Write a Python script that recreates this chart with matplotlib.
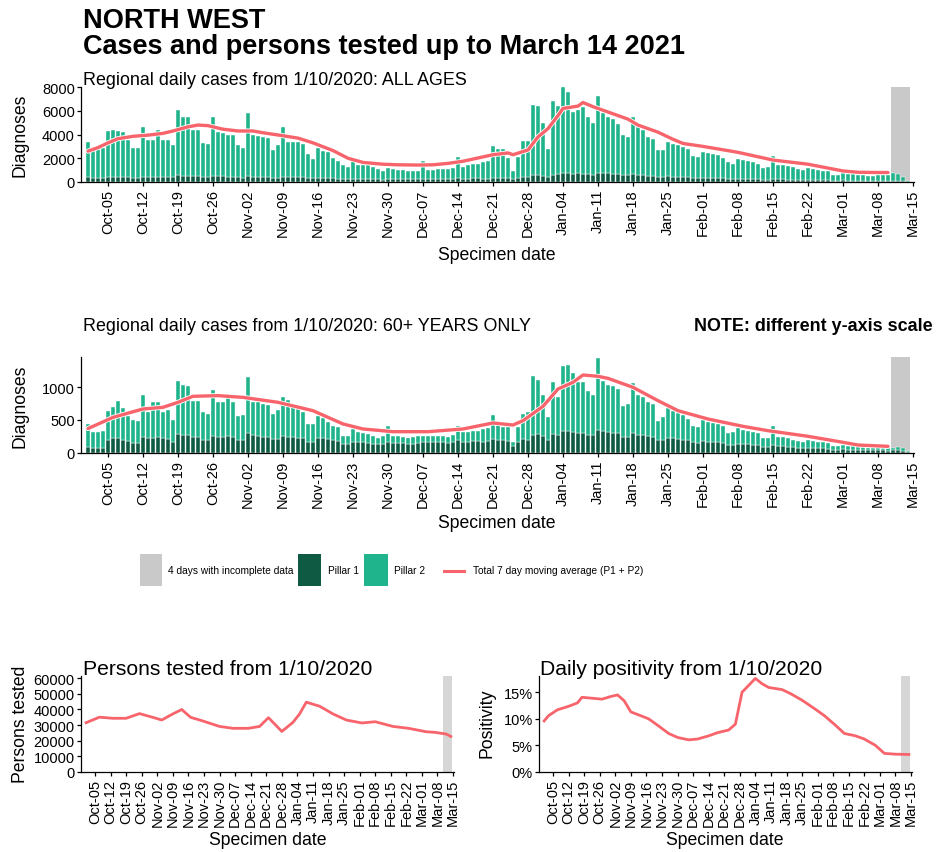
import numpy as np
import pandas as pd
import matplotlib
matplotlib.use('Agg')
import matplotlib.pyplot as plt
import matplotlib.dates as mdates
import matplotlib.patheffects as pe
from matplotlib.patches import Rectangle
from matplotlib.lines import Line2D
from matplotlib.ticker import PercentFormatter, FixedLocator
from matplotlib import font_manager

# ---------------- DATA ----------------
dates = pd.date_range('2020-10-01', '2021-03-14', freq='D')

all_total = [3400, 2700, 2800, 2900, 4300, 4400, 4300,
             4200, 3500, 2850, 2850, 4650, 3500, 3500,
             4400, 3500, 3500, 3100, 6100, 5500, 5500,
             4400, 4400, 3300, 3200, 5500, 4200, 4100,
             4000, 4000, 3100, 2900, 5800, 4000, 3900,
             3800, 3700, 2700, 3100, 4600, 3400, 3400,
             3400, 3200, 2400, 1950, 2850, 2650, 2500,
             2000, 1800, 1400, 1300, 1800, 1450, 1450,
             1400, 1300, 1100, 950, 1150, 1100, 1000,
             1000, 960, 960, 960, 1800, 1000, 1050,
             1080, 1100, 1100, 1200, 2100, 1300, 1400,
             1500, 1550, 1700, 1750, 3000, 2800, 2800,
             2050, 900, 2100, 3450, 3450, 6500, 6400,
             5000, 2800, 6800, 6400, 8050, 7550, 5900,
             6050, 6300, 5500, 4950, 7250, 5850, 5500,
             5300, 4900, 3950, 3800, 5500, 4600, 4400,
             3800, 3650, 2700, 2700, 3400, 3200, 3100,
             2950, 2800, 2150, 2100, 2500, 2450, 2400,
             2250, 2050, 1650, 1550, 1950, 1850, 1800,
             1650, 1550, 1200, 1300, 2200, 1400, 1400,
             1350, 1300, 1100, 1000, 1200, 1100, 1000,
             950, 900, 620, 620, 800, 700, 700,
             620, 620, 500, 500, 620, 600, 550,
             750, 700, 450, 100]

all_pillar1 = [380, 350, 300, 300, 420, 430, 430,
               420, 400, 320, 320, 450, 430, 430,
               450, 430, 420, 380, 560, 540, 530,
               500, 500, 420, 400, 520, 480, 470,
               460, 450, 380, 360, 500, 440, 430,
               420, 410, 330, 340, 430, 400, 400,
               390, 380, 320, 300, 360, 350, 340,
               310, 290, 240, 230, 280, 260, 260,
               250, 240, 220, 210, 260, 250, 240,
               240, 230, 220, 220, 270, 260, 260,
               260, 260, 240, 240, 300, 290, 290,
               300, 300, 280, 280, 360, 350, 350,
               330, 250, 320, 400, 420, 560, 580,
               520, 420, 620, 650, 720, 730, 700,
               720, 700, 640, 620, 780, 740, 720,
               700, 680, 600, 580, 640, 600, 580,
               540, 520, 440, 430, 480, 460, 450,
               420, 400, 340, 330, 360, 350, 340,
               320, 300, 260, 250, 280, 270, 260,
               250, 240, 200, 200, 240, 220, 220,
               210, 200, 170, 160, 180, 170, 160,
               150, 140, 110, 110, 130, 120, 120,
               110, 110, 90, 90, 110, 100, 100,
               100, 90, 70, 20]

old_total = [440, 313, 323, 338, 641, 692, 793,
             677, 566, 505, 490, 879, 616, 778,
             768, 616, 657, 505, 1096, 1030, 1020,
             793, 793, 616, 591, 960, 768, 768,
             894, 768, 566, 576, 1146, 768, 778,
             742, 727, 591, 657, 843, 808, 692,
             667, 626, 440, 440, 556, 525, 475,
             404, 389, 253, 263, 364, 323, 303,
             288, 253, 222, 253, 404, 253, 253,
             237, 222, 237, 253, 253, 253, 253,
             253, 263, 237, 273, 414, 313, 323,
             338, 338, 364, 380, 570, 470, 400,
             389, 172, 389, 591, 616, 1172, 1111,
             879, 540, 1071, 843, 1323, 1333, 1212,
             1071, 1071, 944, 879, 1434, 1096, 1030,
             1020, 970, 717, 742, 1061, 879, 843,
             768, 742, 490, 540, 677, 641, 606,
             576, 515, 404, 389, 505, 475, 455,
             440, 404, 303, 313, 374, 354, 338,
             313, 303, 222, 222, 404, 237, 237,
             222, 202, 187, 172, 202, 187, 172,
             162, 146, 111, 111, 121, 111, 101,
             101, 96, 71, 71, 86, 81, 71,
             81, 96, 76, 35]

old_pillar1 = [90, 80, 70, 80, 200, 230, 220,
               200, 180, 150, 150, 250, 230, 230,
               240, 220, 210, 170, 290, 280, 270,
               250, 250, 200, 190, 260, 250, 250,
               260, 250, 200, 200, 310, 270, 260,
               250, 250, 210, 210, 260, 250, 240,
               230, 220, 170, 170, 230, 220, 210,
               190, 180, 140, 140, 170, 160, 160,
               150, 140, 130, 140, 170, 150, 150,
               150, 140, 140, 150, 160, 160, 160,
               160, 160, 150, 160, 190, 170, 170,
               180, 180, 170, 180, 210, 200, 190,
               180, 110, 170, 210, 200, 280, 290,
               260, 200, 290, 270, 330, 330, 320,
               310, 300, 280, 270, 350, 330, 320,
               310, 300, 250, 250, 300, 280, 270,
               260, 250, 200, 200, 230, 220, 210,
               200, 190, 160, 150, 180, 170, 160,
               160, 150, 120, 120, 140, 130, 130,
               120, 120, 90, 90, 120, 100, 100,
               90, 90, 80, 70, 80, 80, 70,
               70, 60, 50, 50, 60, 50, 50,
               50, 50, 40, 40, 40, 40, 35,
               40, 45, 35, 15]

all_ma_dates = ['2020-10-01', '2020-10-03', '2020-10-05', '2020-10-07', '2020-10-10',
                '2020-10-13', '2020-10-16', '2020-10-18', '2020-10-21', '2020-10-23',
                '2020-10-25', '2020-10-28', '2020-10-31', '2020-11-03', '2020-11-05',
                '2020-11-09', '2020-11-12', '2020-11-15', '2020-11-19', '2020-11-22',
                '2020-11-25', '2020-11-29', '2020-12-02', '2020-12-06', '2020-12-09',
                '2020-12-12', '2020-12-15', '2020-12-21', '2020-12-24', '2020-12-25',
                '2020-12-28', '2020-12-30', '2021-01-01', '2021-01-03', '2021-01-04',
                '2021-01-07', '2021-01-08', '2021-01-10', '2021-01-13', '2021-01-17',
                '2021-01-19', '2021-01-23', '2021-01-26', '2021-01-28', '2021-02-01',
                '2021-02-08', '2021-02-15', '2021-02-22', '2021-03-01', '2021-03-04',
                '2021-03-08', '2021-03-10']
all_ma = [2600, 2900, 3300, 3650, 3850, 3950, 4100, 4300, 4650, 4800,
          4750, 4450, 4300, 4300, 4150, 3900, 3700, 3300, 2650, 2000,
          1650, 1500, 1450, 1430, 1450, 1570, 1750, 2300, 2450, 2300,
          2700, 3800, 4500, 5600, 6200, 6400, 6700, 6350, 5900, 5300,
          4800, 4200, 3600, 3250, 3000, 2500, 1850, 1500, 930, 820,
          800, 800]

old_ma_dates = ['2020-10-01', '2020-10-06', '2020-10-12', '2020-10-16', '2020-10-19',
                '2020-10-22', '2020-10-27', '2020-11-01', '2020-11-08', '2020-11-15',
                '2020-11-21', '2020-11-25', '2020-12-01', '2020-12-08', '2020-12-15',
                '2020-12-21', '2020-12-25', '2020-12-27', '2020-12-31', '2021-01-03',
                '2021-01-06', '2021-01-08', '2021-01-11', '2021-01-13', '2021-01-18',
                '2021-01-23', '2021-01-27', '2021-02-02', '2021-02-09', '2021-02-14',
                '2021-02-22', '2021-03-01', '2021-03-04', '2021-03-07', '2021-03-10']
old_ma = [370, 540, 667, 692, 768, 859, 869, 843, 768, 641,
          440, 364, 323, 323, 364, 455, 424, 490, 707, 970,
          1071, 1182, 1162, 1131, 995, 793, 641, 515, 404, 338,
          253, 162, 121, 111, 101]

tested_dates = ['2020-10-01', '2020-10-07', '2020-10-13', '2020-10-19', '2020-10-25',
                '2020-10-31', '2020-11-04', '2020-11-09', '2020-11-13', '2020-11-17',
                '2020-11-22', '2020-11-30', '2020-12-06', '2020-12-13', '2020-12-18',
                '2020-12-22', '2020-12-28', '2021-01-02', '2021-01-05', '2021-01-08',
                '2021-01-14', '2021-01-20', '2021-01-26', '2021-02-02', '2021-02-08',
                '2021-02-16', '2021-02-23', '2021-03-03', '2021-03-07', '2021-03-12',
                '2021-03-14']
tested = [31500, 35000, 34300, 34300, 37300, 34900, 33200, 37100, 39900, 34900,
          32800, 29100, 27900, 27900, 29100, 34700, 25900, 31700, 37100, 44600,
          42000, 37100, 33200, 31300, 32100, 29100, 27900, 25700, 25300, 24200,
          22700]

pos_dates = ['2020-10-01', '2020-10-03', '2020-10-07', '2020-10-12', '2020-10-16',
             '2020-10-18', '2020-10-22', '2020-10-27', '2020-10-31', '2020-11-03',
             '2020-11-06', '2020-11-09', '2020-11-14', '2020-11-17', '2020-11-21',
             '2020-11-26', '2020-11-30', '2020-12-05', '2020-12-09', '2020-12-14',
             '2020-12-18', '2020-12-23', '2020-12-26', '2020-12-29', '2021-01-01',
             '2021-01-04', '2021-01-07', '2021-01-10', '2021-01-16', '2021-01-20',
             '2021-01-25', '2021-01-31', '2021-02-04', '2021-02-09', '2021-02-13',
             '2021-02-18', '2021-02-22', '2021-02-27', '2021-03-03', '2021-03-08',
             '2021-03-14']
positivity = [9.6, 10.6, 11.7, 12.35, 13.0, 14.05, 13.9, 13.7, 14.2, 14.5,
              13.4, 11.3, 10.5, 10.0, 8.8, 7.25, 6.5, 6.05, 6.2, 6.8,
              7.4, 7.9, 9.0, 15.0, 16.3, 17.6, 16.6, 15.9, 15.5, 14.7,
              13.5, 11.8, 10.6, 8.8, 7.25, 6.8, 6.2, 5.0, 3.5, 3.35,
              3.3]

incomplete_start = '2021-03-11'
incomplete_end = '2021-03-14'
tick_dates = pd.date_range('2020-10-05', '2021-03-15', freq='7D')

legend_labels = ['4 days with incomplete data', 'Pillar 1', 'Pillar 2',
                 'Total 7 day moving average (P1 + P2)']

# ---------------- STYLE ----------------
plt.rcParams['font.family'] = ['Liberation Sans', 'DejaVu Sans']
names = {f.name for f in font_manager.fontManager.ttflist}
if 'Liberation Sans Narrow' in names:
    legend_family = ['Liberation Sans Narrow', 'Liberation Sans']
    legend_fs = 9.8
else:
    legend_family = ['Liberation Sans', 'DejaVu Sans']
    legend_fs = 7.3

C_P1 = '#0f5a43'
C_P2 = '#1fb48c'
C_LINE = '#f7646b'
C_GREY = '#c9c9c9'

W, H = 938, 853
fig = plt.figure(figsize=(W / 100, H / 100), dpi=100)


def add_ax(l, t, r, b):
    return fig.add_axes([l / W, 1 - b / H, (r - l) / W, (b - t) / H])


def ftext(x, y, s, **kw):
    fig.text(x / W, 1 - y / H, s, **kw)


d0 = pd.Timestamp('2020-10-01')


def style_axis(ax, xl, xr):
    for s in ('top', 'right'):
        ax.spines[s].set_visible(False)
    for s in ('left', 'bottom'):
        ax.spines[s].set_linewidth(0.9)
        ax.spines[s].set_color('black')
    ax.set_xlim(d0 + pd.Timedelta(days=xl), d0 + pd.Timedelta(days=xr))
    ax.xaxis.set_major_locator(FixedLocator(mdates.date2num(tick_dates)))
    ax.xaxis.set_major_formatter(mdates.DateFormatter('%b-%d'))
    ax.tick_params(axis='x', labelrotation=90, labelsize=10.5, length=3, width=0.9, pad=2)
    ax.tick_params(axis='y', labelsize=10.5, length=3, width=0.9, pad=1.5)
    ax.set_facecolor('none')


start_inc = pd.Timestamp(incomplete_start) - pd.Timedelta(hours=12)
end_inc = pd.Timestamp(incomplete_end) + pd.Timedelta(hours=12)


def bar_panel(ax, total, p1, ma_dates, ma, ymax, yticks):
    total = np.array(total, dtype=float)
    p1 = np.array(p1, dtype=float)
    p2 = total - p1
    ax.axvspan(start_inc, end_inc, color=C_GREY, zorder=0.5, lw=0)
    ax.bar(dates, p1, width=0.92, color=C_P1, edgecolor='white', linewidth=0.3, zorder=1)
    ax.bar(dates, p2, bottom=p1, width=0.92, color=C_P2, edgecolor='white', linewidth=0.3, zorder=1)
    ax.plot(pd.to_datetime(ma_dates), ma, color=C_LINE, lw=2.4, zorder=3,
            solid_capstyle='round',
            path_effects=[pe.Stroke(linewidth=3.6, foreground='white'), pe.Normal()])
    ax.set_ylim(0, ymax)
    ax.set_yticks(yticks)
    style_axis(ax, -1.4, 165.2)


# ---------------- PANEL 1 ----------------
ax1 = add_ax(81, 87.5, 914, 183)
bar_panel(ax1, all_total, all_pillar1, all_ma_dates, all_ma, 8050, [0, 2000, 4000, 6000, 8000])

# ---------------- PANEL 2 ----------------
ax2 = add_ax(81, 358.3, 914, 454)
bar_panel(ax2, old_total, old_pillar1, old_ma_dates, old_ma, 1450, [0, 500, 1000])

# ---------------- PANEL 3 ----------------
ax3 = add_ax(81, 676.7, 453.5, 773)
ax3.axvspan(start_inc, end_inc, color='#d6d6d6', zorder=0.5, lw=0)
ax3.plot(pd.to_datetime(tested_dates), tested, color=C_LINE, lw=2.0, zorder=3)
ax3.set_ylim(0, 61500)
ax3.set_yticks(range(0, 60001, 10000))
style_axis(ax3, -2.3, 165.2)

# ---------------- PANEL 4 ----------------
ax4 = add_ax(539, 677.3, 911.5, 773)
ax4.axvspan(start_inc, end_inc, color='#d6d6d6', zorder=0.5, lw=0)
ax4.plot(pd.to_datetime(pos_dates), positivity, color=C_LINE, lw=2.0, zorder=3)
ax4.set_ylim(0, 18)
ax4.set_yticks([0, 5, 10, 15])
ax4.yaxis.set_major_formatter(PercentFormatter(xmax=100, decimals=0))
style_axis(ax4, -2.3, 165.2)

# ---------------- TEXT ----------------
ftext(83, 27.5, 'NORTH WEST', fontsize=19.5, fontweight='bold', va='baseline')
ftext(83, 53.5, 'Cases and persons tested up to March 14 2021', fontsize=19.5,
      fontweight='bold', va='baseline')
ftext(83, 85, 'Regional daily cases from 1/10/2020: ALL AGES', fontsize=12.9, va='baseline')
ftext(83, 331, 'Regional daily cases from 1/10/2020: 60+ YEARS ONLY', fontsize=12.9, va='baseline')
ftext(933, 331, 'NOTE: different y-axis scale', fontsize=12.9, fontweight='bold',
      va='baseline', ha='right')

ftext(497, 260, 'Specimen date', fontsize=12.7, va='baseline', ha='center')
ftext(497, 528, 'Specimen date', fontsize=12.7, va='baseline', ha='center')
ftext(268, 845, 'Specimen date', fontsize=12.7, va='baseline', ha='center')
ftext(725, 845, 'Specimen date', fontsize=12.7, va='baseline', ha='center')

ftext(20, 135, 'Diagnoses', fontsize=12.7, rotation=90, va='center', ha='center')
ftext(20, 406, 'Diagnoses', fontsize=12.7, rotation=90, va='center', ha='center')
ftext(21, 724, 'Persons tested', fontsize=12.7, rotation=90, va='center', ha='center')
ftext(487, 723, 'Positivity', fontsize=12.7, rotation=90, va='center', ha='center')

ftext(83, 675, 'Persons tested from 1/10/2020', fontsize=15.2, va='baseline')
ftext(540, 675, 'Daily positivity from 1/10/2020', fontsize=15.2, va='baseline')

# ---------------- LEGEND ----------------
lax = fig.add_axes([0, 0, 1, 1])
lax.set_xlim(0, W)
lax.set_ylim(H, 0)
lax.axis('off')
lax.set_facecolor('none')
key_y0, key_y1 = 555, 587
lax.add_patch(Rectangle((140, key_y0), 22, key_y1 - key_y0, color=C_GREY, lw=0))
lax.add_patch(Rectangle((298, key_y0), 23, key_y1 - key_y0, color=C_P1, lw=0))
lax.add_patch(Rectangle((364, key_y0), 24, key_y1 - key_y0, color=C_P2, lw=0))
lax.add_line(Line2D([444, 464], [572, 572], color=C_LINE, lw=2.2))
for x, lab in zip([168, 328, 394, 473], legend_labels):
    lax.text(x, 571.5, lab, fontsize=legend_fs, family=legend_family,
             va='center', ha='left')

fig.savefig('out.png', dpi=100)
